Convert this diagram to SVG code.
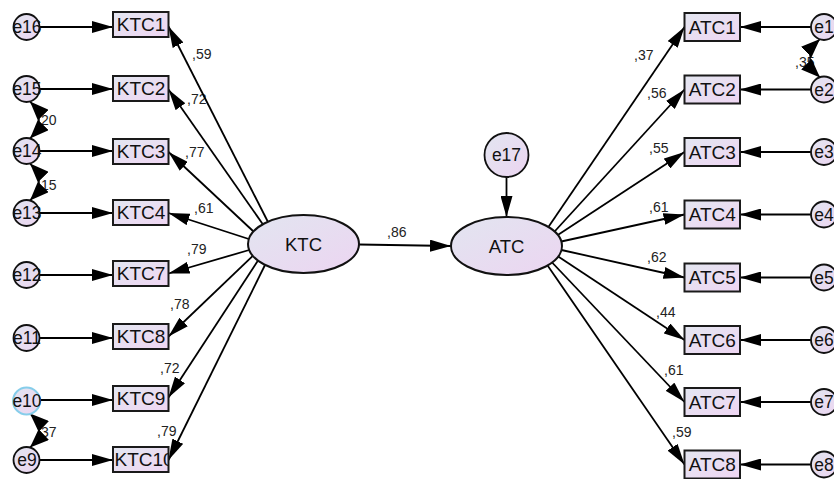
<svg xmlns="http://www.w3.org/2000/svg" width="834" height="479" viewBox="0 0 834 479">
<defs>
<linearGradient id="gBox" x1="0" y1="0" x2="1" y2="1">
<stop offset="0" stop-color="#e3e6f0"/>
<stop offset="1" stop-color="#efd6f3"/>
</linearGradient>
<linearGradient id="gEl" x1="0" y1="0" x2="1" y2="1">
<stop offset="0" stop-color="#e2e5f0"/>
<stop offset="1" stop-color="#ecd5f1"/>
</linearGradient>
<marker id="ah" markerUnits="userSpaceOnUse" markerWidth="22" markerHeight="12" refX="21" refY="6" orient="auto">
<path d="M0,0 L21,6 L0,12 z" fill="#000"/>
</marker>
<marker id="ac" markerUnits="userSpaceOnUse" markerWidth="20" markerHeight="15" refX="19" refY="7.5" orient="auto-start-reverse">
<path d="M0,0 L19,7.5 L0,15 z" fill="#000"/>
</marker>
<clipPath id="clipK10"><rect x="113" y="447" width="55.5" height="25"/></clipPath>
</defs>
<style>
.box{fill:url(#gBox);stroke:#1a1a1a;stroke-width:2}
.el{fill:url(#gEl);stroke:#111;stroke-width:2}
.err{fill:url(#gEl);stroke:#111;stroke-width:1.8}
.lbl{font-family:"Liberation Sans",Arial,sans-serif;font-size:19px;fill:#111;text-anchor:middle}
.elbl{font-family:"Liberation Sans",Arial,sans-serif;font-size:17.5px;fill:#111;text-anchor:middle}
.coef{font-family:"Liberation Sans",Arial,sans-serif;font-size:14px;fill:#222}
.p{stroke:#000;stroke-width:1.8;fill:none;marker-end:url(#ah)}
.cv{stroke:#000;stroke-width:1.6;fill:none;marker-start:url(#ac);marker-end:url(#ac)}
</style>
<rect width="834" height="479" fill="#fff"/>

<g id="coefficients">
<text class="coef" x="192" y="59">,59</text>
<text class="coef" x="187" y="104">,72</text>
<text class="coef" x="185" y="156.5">,77</text>
<text class="coef" x="194" y="213">,61</text>
<text class="coef" x="187" y="254">,79</text>
<text class="coef" x="170" y="309">,78</text>
<text class="coef" x="160" y="373">,72</text>
<text class="coef" x="157" y="436">,79</text>
<text class="coef" x="634" y="60">,37</text>
<text class="coef" x="647" y="98">,56</text>
<text class="coef" x="649" y="153">,55</text>
<text class="coef" x="649" y="212">,61</text>
<text class="coef" x="647" y="262">,62</text>
<text class="coef" x="656" y="317">,44</text>
<text class="coef" x="664" y="375">,61</text>
<text class="coef" x="672" y="437">,59</text>
<text class="coef" x="387" y="237">,86</text>
<text class="coef" x="37" y="125">,20</text>
<text class="coef" x="37" y="190">,15</text>
<text class="coef" x="37" y="436.5">,37</text>
<text class="coef" x="795" y="66.5">,35</text>
</g>

<g id="connectors">
<line class="p" x1="40" y1="27" x2="113" y2="27"/>
<line class="p" x1="40" y1="89" x2="113" y2="89"/>
<line class="p" x1="40" y1="151" x2="113" y2="151"/>
<line class="p" x1="40" y1="213" x2="113" y2="213"/>
<line class="p" x1="40" y1="275" x2="113" y2="275"/>
<line class="p" x1="40" y1="338" x2="113" y2="338"/>
<line class="p" x1="40" y1="400" x2="113" y2="400"/>
<line class="p" x1="40" y1="460" x2="113" y2="460"/>
<line class="p" x1="268" y1="222" x2="168.5" y2="26.5"/>
<line class="p" x1="263" y1="224.5" x2="168.5" y2="89.5"/>
<line class="p" x1="253.5" y1="231.5" x2="168.5" y2="152"/>
<line class="p" x1="248.8" y1="239" x2="168.5" y2="213"/>
<line class="p" x1="249.2" y1="250" x2="168.5" y2="273.5"/>
<line class="p" x1="252.8" y1="255.8" x2="168.5" y2="336.5"/>
<line class="p" x1="258" y1="260.6" x2="168.5" y2="397.5"/>
<line class="p" x1="265" y1="265" x2="168.5" y2="460"/>
<line class="p" x1="359" y1="244.5" x2="451" y2="246"/>
<line class="p" x1="506.5" y1="177" x2="506.5" y2="217"/>
<line class="p" x1="548.4" y1="227" x2="684.5" y2="27"/>
<line class="p" x1="554.6" y1="231.5" x2="684.5" y2="89.5"/>
<line class="p" x1="557.8" y1="235" x2="684.5" y2="152"/>
<line class="p" x1="561.3" y1="241.5" x2="684.5" y2="214.5"/>
<line class="p" x1="561.5" y1="250" x2="684.5" y2="277.5"/>
<line class="p" x1="558.2" y1="256.5" x2="684.5" y2="340"/>
<line class="p" x1="552.1" y1="262.5" x2="684.5" y2="402"/>
<line class="p" x1="547.6" y1="265.5" x2="684.5" y2="464.5"/>
<line class="p" x1="811" y1="27" x2="740" y2="27"/>
<line class="p" x1="811" y1="89.5" x2="740" y2="89.5"/>
<line class="p" x1="811" y1="152" x2="740" y2="152"/>
<line class="p" x1="811" y1="214.5" x2="740" y2="214.5"/>
<line class="p" x1="811" y1="277.5" x2="740" y2="277.5"/>
<line class="p" x1="811" y1="340" x2="740" y2="340"/>
<line class="p" x1="811" y1="402" x2="740" y2="402"/>
<line class="p" x1="811" y1="464.5" x2="740" y2="464.5"/>
<path class="cv" d="M30,101.5 Q48,120 30,138.5"/>
<path class="cv" d="M30,163.5 Q48,182 30,200.5"/>
<path class="cv" d="M30,413.5 Q48,430.5 30,447.5"/>
<path class="cv" d="M820,39 Q800,58 820,77.5"/>
</g>

<g id="e16"><circle class="err" cx="26.5" cy="27" r="13"/><text class="elbl" x="27" y="33.3">e16</text></g>
<g id="e15"><circle class="err" cx="26.5" cy="89" r="13"/><text class="elbl" x="27" y="95.3">e15</text></g>
<g id="e14"><circle class="err" cx="26.5" cy="151" r="13"/><text class="elbl" x="27" y="157.3">e14</text></g>
<g id="e13"><circle class="err" cx="26.5" cy="213" r="13"/><text class="elbl" x="27" y="219.3">e13</text></g>
<g id="e12"><circle class="err" cx="26.5" cy="275" r="13"/><text class="elbl" x="27" y="281.3">e12</text></g>
<g id="e11"><circle class="err" cx="26.5" cy="338" r="13"/><text class="elbl" x="27" y="344.3">e11</text></g>
<g id="e10"><circle class="err" cx="26.5" cy="401" r="13.5" style="stroke:#86cdea;stroke-width:2"/><text class="elbl" x="27" y="407.3">e10</text></g>
<g id="e9"><circle class="err" cx="26.5" cy="460" r="13"/><text class="elbl" x="27" y="466.3">e9</text></g>

<g id="KTC1"><rect class="box" x="113" y="12" width="55.5" height="25"/><text class="lbl" x="141" y="31.3">KTC1</text></g>
<g id="KTC2"><rect class="box" x="113" y="76" width="55.5" height="25"/><text class="lbl" x="141" y="95.3">KTC2</text></g>
<g id="KTC3"><rect class="box" x="113" y="139" width="55.5" height="25"/><text class="lbl" x="141" y="158.3">KTC3</text></g>
<g id="KTC4"><rect class="box" x="113" y="200" width="55.5" height="25"/><text class="lbl" x="141" y="219.3">KTC4</text></g>
<g id="KTC7"><rect class="box" x="113" y="261" width="55.5" height="25"/><text class="lbl" x="141" y="280.3">KTC7</text></g>
<g id="KTC8"><rect class="box" x="113" y="324" width="55.5" height="25"/><text class="lbl" x="141" y="343.3">KTC8</text></g>
<g id="KTC9"><rect class="box" x="113" y="386" width="55.5" height="25"/><text class="lbl" x="141" y="405.3">KTC9</text></g>
<g id="KTC10"><rect class="box" x="113" y="447" width="55.5" height="25"/><text class="lbl" x="114.5" y="466.3" clip-path="url(#clipK10)" style="text-anchor:start">KTC10</text></g>

<g id="KTC"><ellipse class="el" cx="303.5" cy="244" rx="55.5" ry="29"/><text class="lbl" x="303.5" y="250.5" style="font-size:18.5px">KTC</text></g>
<g id="ATC"><ellipse class="el" cx="506.5" cy="246" rx="55.5" ry="29"/><text class="lbl" x="506.5" y="252.5" style="font-size:18.5px">ATC</text></g>
<g id="e17"><circle class="err" cx="506.5" cy="155" r="22"/><text class="elbl" x="506.5" y="161.3">e17</text></g>

<g id="ATC1"><rect class="box" x="684.5" y="13" width="55.5" height="28"/><text class="lbl" x="712.3" y="33.8">ATC1</text></g>
<g id="ATC2"><rect class="box" x="684.5" y="75.5" width="55.5" height="28"/><text class="lbl" x="712.3" y="96.3">ATC2</text></g>
<g id="ATC3"><rect class="box" x="684.5" y="138" width="55.5" height="28"/><text class="lbl" x="712.3" y="158.8">ATC3</text></g>
<g id="ATC4"><rect class="box" x="684.5" y="200.5" width="55.5" height="28"/><text class="lbl" x="712.3" y="221.3">ATC4</text></g>
<g id="ATC5"><rect class="box" x="684.5" y="263.5" width="55.5" height="28"/><text class="lbl" x="712.3" y="284.3">ATC5</text></g>
<g id="ATC6"><rect class="box" x="684.5" y="326" width="55.5" height="28"/><text class="lbl" x="712.3" y="346.8">ATC6</text></g>
<g id="ATC7"><rect class="box" x="684.5" y="388" width="55.5" height="28"/><text class="lbl" x="712.3" y="408.8">ATC7</text></g>
<g id="ATC8"><rect class="box" x="684.5" y="450.5" width="55.5" height="28"/><text class="lbl" x="712.3" y="471.3">ATC8</text></g>

<g id="e1"><circle class="err" cx="824" cy="27" r="13"/><text class="elbl" x="824" y="33.3">e1</text></g>
<g id="e2"><circle class="err" cx="824" cy="89.5" r="13"/><text class="elbl" x="824" y="95.8">e2</text></g>
<g id="e3"><circle class="err" cx="824" cy="152" r="13"/><text class="elbl" x="824" y="158.3">e3</text></g>
<g id="e4"><circle class="err" cx="824" cy="214.5" r="13"/><text class="elbl" x="824" y="220.8">e4</text></g>
<g id="e5"><circle class="err" cx="824" cy="277.5" r="13"/><text class="elbl" x="824" y="283.8">e5</text></g>
<g id="e6"><circle class="err" cx="824" cy="340" r="13"/><text class="elbl" x="824" y="346.3">e6</text></g>
<g id="e7"><circle class="err" cx="824" cy="402" r="13"/><text class="elbl" x="824" y="408.3">e7</text></g>
<g id="e8"><circle class="err" cx="824" cy="464.5" r="13"/><text class="elbl" x="824" y="470.8">e8</text></g>
</svg>
